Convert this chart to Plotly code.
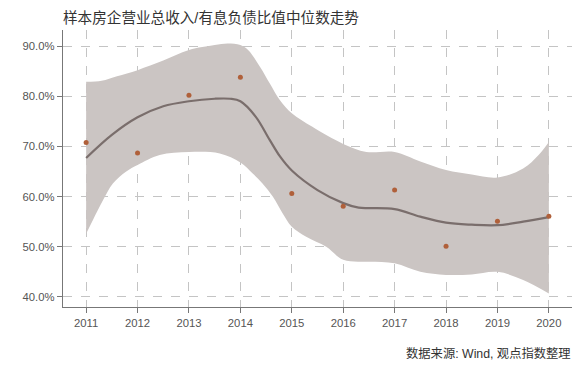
import plotly.graph_objects as go

years = [2011, 2012, 2013, 2014, 2015, 2016, 2017, 2018, 2019, 2020]
values = [70.8, 68.7, 80.2, 83.8, 60.6, 58.1, 61.3, 50.1, 55.1, 56.1]

trend_x = [2011, 2011.5, 2012, 2012.5, 2013, 2013.5, 2013.8, 2014, 2014.3, 2014.57,
           2014.77, 2015, 2015.5, 2016, 2016.3, 2016.5, 2017, 2017.5, 2018, 2018.5,
           2019, 2019.5, 2020]
trend_y = [67.7, 72.3, 75.8, 78.0, 79.0, 79.5, 79.5, 79.0, 75.9, 71.3,
           68.0, 65.2, 61.3, 58.7, 57.8, 57.7, 57.5, 56.0, 54.8, 54.4,
           54.3, 55.0, 55.9]

upper_x = [2011, 2011.3, 2011.6, 2012, 2012.5, 2013, 2013.5, 2013.75, 2014, 2014.15,
           2014.38, 2014.57, 2014.77, 2015, 2015.4, 2016, 2016.45, 2017, 2017.5, 2018,
           2018.5, 2019, 2019.5, 2019.8, 2020]
upper_y = [82.9, 83.1, 84.0, 85.2, 87.1, 89.2, 90.2, 90.5, 90.2, 89.2,
           85.9, 82.6, 79.2, 76.6, 73.9, 70.5, 68.9, 68.9, 67.0, 65.3,
           64.4, 63.8, 65.6, 68.3, 70.9]

lower_x = [2011, 2011.13, 2011.33, 2011.52, 2011.78, 2012, 2012.43, 2013, 2013.6, 2014,
           2014.24, 2014.43, 2014.63, 2014.82, 2015, 2015.28, 2015.67, 2016, 2016.5, 2017,
           2017.5, 2018, 2018.5, 2019, 2019.5, 2020]
lower_y = [52.6, 55.3, 59.3, 62.6, 65.0, 66.3, 68.3, 68.9, 68.6, 66.8,
           64.6, 62.6, 60.0, 56.7, 54.0, 52.0, 50.0, 47.4, 47.0, 46.7,
           45.0, 44.4, 44.5, 45.0, 43.4, 40.7]

y_ticks = [40, 50, 60, 70, 80, 90]
y_tick_labels = ["40.0%", "50.0%", "60.0%", "70.0%", "80.0%", "90.0%"]

title_text = "样本房企营业总收入/有息负债比值中位数走势"
source_text = "数据来源: Wind, 观点指数整理"

FONT = "Liberation Sans, Noto Sans CJK SC, sans-serif"

# page has an 8px body margin, so the figure is sized/offset accordingly
W, H = 572, 359
ML, MR, MT, MB = 55, 8, 22, 60

fig = go.Figure()
fig.add_trace(go.Scatter(x=lower_x, y=lower_y, mode="lines",
                         line=dict(width=0, shape="spline", color="#c9c3c1"),
                         hoverinfo="skip", showlegend=False))
fig.add_trace(go.Scatter(x=upper_x, y=upper_y, mode="lines", fill="tonexty",
                         fillcolor="#cbc5c3",
                         line=dict(width=0, shape="spline", color="#c9c3c1"),
                         hoverinfo="skip", showlegend=False))
fig.add_trace(go.Scatter(x=trend_x, y=trend_y, mode="lines",
                         line=dict(width=2.2, shape="spline", color="#7a6e6c"),
                         showlegend=False))
fig.add_trace(go.Scatter(x=years, y=values, mode="markers",
                         marker=dict(size=5, color="#b0603a"),
                         showlegend=False))

plot_h = H - MT - MB
plot_w = W - ML - MR

fig.update_layout(
    width=W, height=H,
    margin=dict(l=ML, r=MR, t=MT, b=MB),
    paper_bgcolor="white", plot_bgcolor="white",
    font=dict(family=FONT, size=11, color="#555555"),
    showlegend=False,
    title=dict(text=title_text, x=ML / W, xanchor="left", y=1 - 10 / H, yanchor="middle",
               pad=dict(t=0, b=0, l=0, r=0),
               font=dict(family=FONT, size=14.6, color="#333333")),
    xaxis=dict(range=[2010.55, 2020.45], tickmode="array", tickvals=years,
               ticktext=[str(y) for y in years],
               showgrid=True, gridcolor="#c4c4c4", griddash="dash", gridwidth=1,
               showline=True, linecolor="#777777", linewidth=1.3,
               ticks="outside", ticklen=5, tickcolor="#777777",
               zeroline=False, tickfont=dict(size=11.3, color="#555555")),
    yaxis=dict(range=[38.0, 93.2], tickmode="array", tickvals=y_ticks,
               ticktext=y_tick_labels,
               showgrid=True, gridcolor="#c4c4c4", griddash="dash", gridwidth=1,
               showline=True, linecolor="#777777", linewidth=1.3,
               ticks="outside", ticklen=5, tickcolor="#777777",
               zeroline=False, tickfont=dict(size=11.3, color="#555555")),
    annotations=[dict(text=source_text,
                      x=(565 - ML) / plot_w, y=(H - MB - 345) / plot_h,
                      xref="paper", yref="paper",
                      xanchor="right", yanchor="middle", showarrow=False,
                      font=dict(family=FONT, size=12.3, color="#333333"))],
)

fig.write_html("out.html")
